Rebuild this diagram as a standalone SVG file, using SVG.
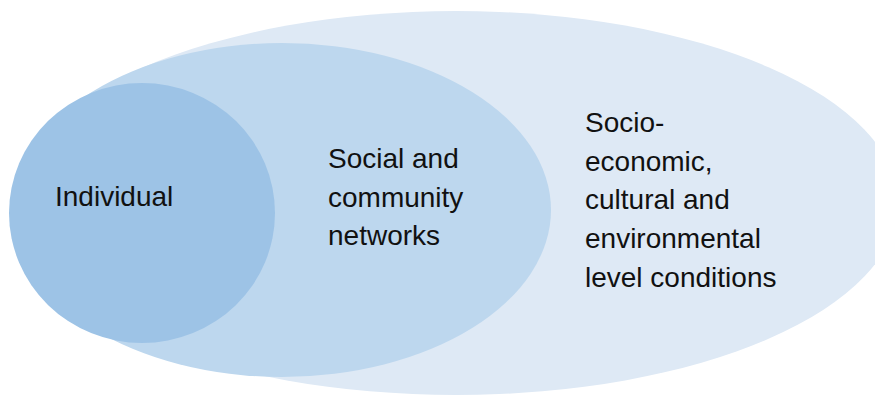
<svg xmlns="http://www.w3.org/2000/svg" width="875" height="396" viewBox="0 0 875 396">
<style>
.lbl{font-family:"Liberation Sans",Arial,sans-serif;font-size:28px;fill:#111111;}
</style>
<rect width="875" height="396" fill="#ffffff"/>
<g id="outer">
<ellipse cx="456" cy="203" rx="442" ry="192" fill="#DEE9F5"/>
<text class="lbl" x="585" y="132">Socio-</text>
<text class="lbl" x="585" y="171">economic,</text>
<text class="lbl" x="585" y="209">cultural and</text>
<text class="lbl" x="585" y="248">environmental</text>
<text class="lbl" x="585" y="287">level conditions</text>
</g>
<g id="middle">
<ellipse cx="282" cy="210" rx="269" ry="167" fill="#BDD7EE"/>
<text class="lbl" x="328" y="168">Social and</text>
<text class="lbl" x="328" y="207">community</text>
<text class="lbl" x="328" y="245">networks</text>
</g>
<g id="individual">
<ellipse cx="142" cy="213" rx="133" ry="130" fill="#9DC3E6"/>
<text class="lbl" x="55" y="206">Individual</text>
</g>
<g id="connectors"></g>
</svg>
